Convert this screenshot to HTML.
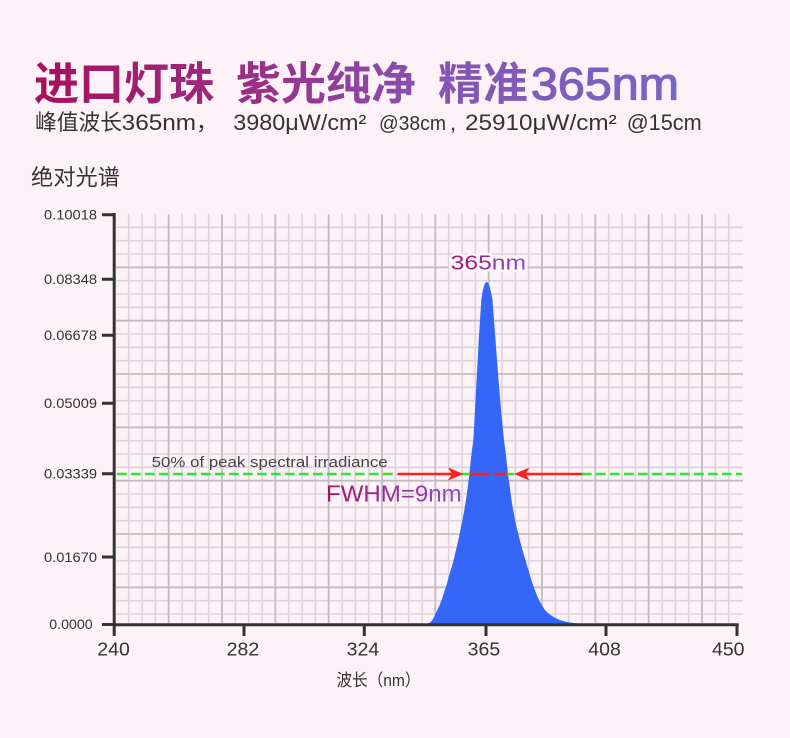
<!DOCTYPE html>
<html><head><meta charset="utf-8"><style>
html,body{margin:0;padding:0;background:#fdf2f8;}
svg{display:block;}
text{font-family:"Liberation Sans","Noto Sans CJK SC",sans-serif;}
</style></head><body>
<svg width="790" height="738" viewBox="0 0 790 738" xmlns="http://www.w3.org/2000/svg">
<defs>
<linearGradient id="tg" gradientUnits="userSpaceOnUse" x1="35" y1="0" x2="680" y2="0">
<stop offset="0" stop-color="#a8105c"/><stop offset="0.35" stop-color="#983088"/><stop offset="0.62" stop-color="#8654b2"/><stop offset="1" stop-color="#7866c4"/>
</linearGradient>
<linearGradient id="pg" gradientUnits="userSpaceOnUse" x1="450" y1="0" x2="526" y2="0">
<stop offset="0" stop-color="#a0146a"/><stop offset="1" stop-color="#8a4fc2"/>
</linearGradient>
<linearGradient id="fg" gradientUnits="userSpaceOnUse" x1="326" y1="0" x2="462" y2="0">
<stop offset="0" stop-color="#a0146a"/><stop offset="1" stop-color="#8a4fc2"/>
</linearGradient>
</defs>
<rect width="790" height="738" fill="#fdf2f8"/>

<!-- Title -->
<g font-size="45" font-weight="bold" fill="url(#tg)">
<text x="34" y="99.5">进口灯珠</text>
<text x="236" y="99.5">紫光纯净</text>
<text x="438" y="99.5">精准</text>
</g>
<text x="531" y="99.5" font-size="45" fill="url(#tg)" stroke="url(#tg)" stroke-width="1.2" textLength="148" lengthAdjust="spacingAndGlyphs">365nm</text>
<!-- Subtitle -->
<g font-size="22" fill="#333">
<text x="35" y="130" textLength="87" lengthAdjust="spacingAndGlyphs">峰值波长</text>
<text x="121.7" y="130" textLength="74.3" lengthAdjust="spacingAndGlyphs">365nm</text>
<text x="196" y="130">，</text>
<text x="233.3" y="130" textLength="133" lengthAdjust="spacingAndGlyphs">3980μW/cm²</text>
<text x="379" y="130" font-size="20" textLength="67" lengthAdjust="spacingAndGlyphs">@38cm</text>
<text x="450" y="130">,</text>
<text x="465" y="130" textLength="151.7" lengthAdjust="spacingAndGlyphs">25910μW/cm²</text>
<text x="626.7" y="130" textLength="75" lengthAdjust="spacingAndGlyphs">@15cm</text>
</g>
<text x="31" y="185" font-size="22" fill="#333" textLength="89" lengthAdjust="spacingAndGlyphs">绝对光谱</text>

<!-- Grid minor -->
<g stroke="#dcd4d8" stroke-width="1.6">
<path d="M128.67 214V623M142 214V623M155.33 214V623M182 214V623M195.33 214V623M208.67 214V623M235.33 214V623M248.67 214V623M262 214V623M288.67 214V623M302 214V623M315.33 214V623M342 214V623M355.33 214V623M368.67 214V623M395.33 214V623M408.67 214V623M422 214V623M448.67 214V623M462 214V623M475.33 214V623M502 214V623M515.33 214V623M528.67 214V623M555.33 214V623M568.67 214V623M582 214V623M608.67 214V623M622 214V623M635.33 214V623M662 214V623M675.33 214V623M688.67 214V623M715.33 214V623M728.67 214V623"/>
<path d="M116 227.33H743M116 240.67H743M116 254H743M116 280.67H743M116 294H743M116 307.33H743M116 334H743M116 347.33H743M116 360.67H743M116 387.33H743M116 400.67H743M116 414H743M116 440.67H743M116 454H743M116 467.33H743M116 494H743M116 507.33H743M116 520.67H743M116 547.33H743M116 560.67H743M116 574H743M116 600.67H743M116 614H743"/>
</g>
<!-- Grid major -->
<g stroke="#c2bdc0" stroke-width="1.8">
<path d="M168.67 214V623M222 214V623M275.33 214V623M328.67 214V623M382 214V623M435.33 214V623M488.67 214V623M542 214V623M595.33 214V623M648.67 214V623M702 214V623"/>
<path d="M116 267.33H743M116 320.67H743M116 374H743M116 427.33H743M116 480.67H743M116 534H743M116 587.33H743"/>
</g>

<!-- Peak -->
<path fill="#3467f7" d="M428 623.5L430 622.5L432 620.5L434 617L436 612.5L439 606.5L441.7 600L444 592.5L446.5 585L449 576L451.7 567L454 558.5L456 550L458 541.5L459.8 533L461.2 526L462.5 520L464.3 510L466 500L467.8 487L469.3 474L470.6 462L471.7 452L473.3 440L474.2 425L475 410L475.8 395L476.6 380L477.7 360L478.7 340L480 320L481.3 300L482.5 292L483.8 286.5L485.2 283L486.7 281.7L488.2 283L489.6 286.5L491 292L492.5 300L494 320L495.5 340L497 360L498.5 380L499.8 395L501 410L502.5 425L504 440L505.6 452L506.7 462L508 474L509.8 487L511.5 500L513.2 510L515 520L516.5 526.5L518 533L520.2 541.5L522.5 550L525 558.5L527.5 567L530.2 576L533 585L536 593L539 600L542 605.5L545 610L548.5 613.5L552 616L556 618.3L560 620L565 621.5L570 622.5L577 623.5Z"/>

<!-- 50% line -->
<g stroke="#2ee62e" stroke-width="2.5" fill="none">
<path d="M117 474H398" stroke-dasharray="9.7 4.3"/>
<path d="M582 474H742" stroke-dasharray="9.7 4.3"/>
<path d="M462 474H470M507 474H514"/>
</g>
<g stroke="#ff2020" stroke-width="2.5" fill="none">
<path d="M398 474H456"/>
<path d="M522 474H582"/>
<path d="M470 474H490M494 474H507"/>
</g>
<g fill="#ff2020">
<path d="M463.5 474L448 467.5L452 474L448 480.5Z"/>
<path d="M514 474L529.5 467.5L525.5 474L529.5 480.5Z"/>
</g>
<text x="151.7" y="467" font-size="14.5" fill="#444" textLength="236" lengthAdjust="spacingAndGlyphs">50% of peak spectral irradiance</text>
<text x="326" y="501.5" font-size="23.5" fill="url(#fg)" textLength="135.7" lengthAdjust="spacingAndGlyphs">FWHM=9nm</text>
<text x="450.7" y="269.3" font-size="20.5" fill="url(#pg)" stroke="#fff6fb" stroke-width="5" stroke-linejoin="round" paint-order="stroke" textLength="75.3" lengthAdjust="spacingAndGlyphs">365nm</text>

<!-- Axes -->
<g stroke="#333" stroke-width="3" fill="none">
<path d="M114.2 213V626"/>
<path d="M112.7 624.7H738.7"/>
<path d="M102 214.7H114M102 279.3H114M102 335.3H114M102 403.3H114M102 473.8H114M102 557H114M102 624.5H114"/>
<path d="M114.2 624V636M244 624V636M364.3 624V636M486 624V636M606 624V636M737 624V636"/>
</g>
<g font-size="14" fill="#333">
<text x="44" y="219.5" textLength="53" lengthAdjust="spacingAndGlyphs">0.10018</text>
<text x="44" y="284.1" textLength="53" lengthAdjust="spacingAndGlyphs">0.08348</text>
<text x="44" y="340.1" textLength="53" lengthAdjust="spacingAndGlyphs">0.06678</text>
<text x="44" y="408.1" textLength="53" lengthAdjust="spacingAndGlyphs">0.05009</text>
<text x="44" y="478.6" textLength="53" lengthAdjust="spacingAndGlyphs">0.03339</text>
<text x="44" y="561.8" textLength="53" lengthAdjust="spacingAndGlyphs">0.01670</text>
<text x="49.3" y="628.8" textLength="43.4" lengthAdjust="spacingAndGlyphs">0.0000</text>
</g>
<g font-size="18" fill="#333">
<text x="97.3" y="655.7" textLength="32.5" lengthAdjust="spacingAndGlyphs">240</text>
<text x="226.7" y="655.7" textLength="32.5" lengthAdjust="spacingAndGlyphs">282</text>
<text x="346.7" y="655.7" textLength="32.5" lengthAdjust="spacingAndGlyphs">324</text>
<text x="467.7" y="655.7" textLength="32.5" lengthAdjust="spacingAndGlyphs">365</text>
<text x="588.3" y="655.7" textLength="32.5" lengthAdjust="spacingAndGlyphs">408</text>
<text x="712" y="655.7" textLength="32.5" lengthAdjust="spacingAndGlyphs">450</text>
</g>
<text x="336.5" y="686" font-size="17" fill="#333" textLength="84" lengthAdjust="spacingAndGlyphs">波长（nm）</text>
</svg>
</body></html>
